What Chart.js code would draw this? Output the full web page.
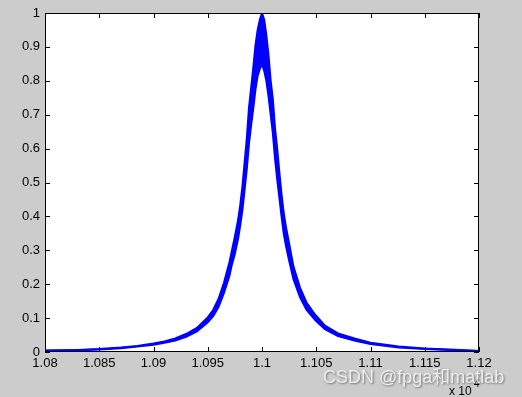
<!DOCTYPE html>
<html>
<head>
<meta charset="utf-8">
<script src="https://cdn.jsdelivr.net/npm/chart.js@4.4.0/dist/chart.umd.min.js"></script>
<style>
  html, body { margin: 0; padding: 0; background: #cccccc; }
  canvas { display: block; }
</style>
</head>
<body>
<canvas id="resonance" width="522" height="397"></canvas>
<script>
// frequency (x 10^4) and the top / bottom edges of the ringing response band
var freq = [
  1.0800, 1.0830, 1.0850, 1.0870, 1.0885, 1.0900, 1.0910, 1.0920, 1.0930, 1.0940,
  1.0950, 1.0955, 1.0960, 1.0965, 1.0970, 1.0972, 1.0975, 1.0978, 1.0980, 1.0982,
  1.0984, 1.0986, 1.0988, 1.0990, 1.0992, 1.0994, 1.0996, 1.0998, 1.1000, 1.1002,
  1.1004, 1.1006, 1.1008, 1.1010, 1.1012, 1.1014, 1.1016, 1.1018, 1.1020, 1.1022,
  1.1025, 1.1029, 1.1035, 1.1041, 1.1049, 1.1058, 1.1070, 1.1086, 1.1100, 1.1126,
  1.1150, 1.1178, 1.1200
];
var upper = [
  0.0043, 0.0060, 0.0085, 0.0130, 0.0180, 0.0250, 0.0310, 0.0400, 0.0530, 0.0710,
  0.1020, 0.1240, 0.1570, 0.2050, 0.2650, 0.2950, 0.3400, 0.3900, 0.4350, 0.4900,
  0.5600, 0.6300, 0.7200, 0.7800, 0.8400, 0.9050, 0.9500, 0.9800, 1.0000, 0.9800,
  0.9350, 0.8750, 0.8000, 0.7450, 0.6600, 0.6000, 0.5300, 0.4650, 0.4100, 0.3700,
  0.3200, 0.2520, 0.1900, 0.1460, 0.1100, 0.0780, 0.0550, 0.0390, 0.0275, 0.0160,
  0.0105, 0.0065, 0.0033
];
var lower = [
  0.0037, 0.0050, 0.0075, 0.0110, 0.0160, 0.0210, 0.0270, 0.0340, 0.0450, 0.0610,
  0.0880, 0.1060, 0.1330, 0.1750, 0.2250, 0.2550, 0.2900, 0.3350, 0.3750, 0.4200,
  0.4800, 0.5400, 0.6150, 0.6700, 0.7200, 0.7750, 0.8150, 0.8350, 0.8500, 0.8300,
  0.8000, 0.7550, 0.7000, 0.6450, 0.5700, 0.5100, 0.4550, 0.4000, 0.3500, 0.3150,
  0.2700, 0.2150, 0.1620, 0.1250, 0.0940, 0.0670, 0.0470, 0.0330, 0.0235, 0.0135,
  0.0090, 0.0055, 0.0028
];

var xTickValues = [1.08, 1.085, 1.09, 1.095, 1.1, 1.105, 1.11, 1.115, 1.12];
var xTickLabels = ["1.08", "1.085", "1.09", "1.095", "1.1", "1.105", "1.11", "1.115", "1.12"];
var yTickValues = [0, 0.1, 0.2, 0.3, 0.4, 0.5, 0.6, 0.7, 0.8, 0.9, 1];
var yTickLabels = ["0", "0.1", "0.2", "0.3", "0.4", "0.5", "0.6", "0.7", "0.8", "0.9", "1"];

var BLUE = "rgb(0,0,255)";
var FONT = "'Liberation Sans', Arial, sans-serif";

// matlab-ish axes: grey figure, white box, ticks pointing inwards
var matlabAxes = {
  id: "matlabAxes",
  beforeDraw: function (chart) {
    var ctx = chart.ctx, a = chart.chartArea;
    ctx.save();
    ctx.fillStyle = "#cccccc";
    ctx.fillRect(0, 0, chart.width, chart.height);
    ctx.fillStyle = "#ffffff";
    ctx.fillRect(a.left, a.top, a.right - a.left, a.bottom - a.top);
    ctx.restore();
  },
  beforeDatasetsDraw: function (chart) {
    var ctx = chart.ctx, a = chart.chartArea;
    var x = chart.scales.x, y = chart.scales.y;
    var len = 5;
    ctx.save();
    ctx.strokeStyle = "#000";
    ctx.lineWidth = 1;
    ctx.beginPath();
    x.ticks.forEach(function (t) {
      var px = Math.round(x.getPixelForValue(t.value)) + 0.5;
      ctx.moveTo(px, a.bottom);
      ctx.lineTo(px, a.bottom - len);
      ctx.moveTo(px, a.top);
      ctx.lineTo(px, a.top + len);
    });
    y.ticks.forEach(function (t) {
      var py = Math.round(y.getPixelForValue(t.value)) + 0.5;
      ctx.moveTo(a.left, py);
      ctx.lineTo(a.left + len, py);
      ctx.moveTo(a.right, py);
      ctx.lineTo(a.right - len, py);
    });
    ctx.stroke();
    ctx.restore();
  },
  afterDatasetsDraw: function (chart) {
    var ctx = chart.ctx, a = chart.chartArea;
    ctx.save();
    ctx.strokeStyle = "#000";
    ctx.lineWidth = 1;
    ctx.strokeRect(a.left + 0.5, a.top + 0.5, a.right - a.left - 1, a.bottom - a.top - 1);
    ctx.restore();
  },
  afterDraw: function (chart) {
    var ctx = chart.ctx;
    ctx.save();
    ctx.fillStyle = "#000";
    ctx.textBaseline = "alphabetic";
    ctx.font = "12px " + FONT;
    ctx.fillText("x 10", 449, 395);
    ctx.font = "10px " + FONT;
    ctx.fillText("4", 474, 387);
    // site watermark
    ctx.font = "18px 'Liberation Sans', Arial, 'Noto Sans CJK SC', sans-serif";
    ctx.shadowColor = "rgba(0,0,0,0.55)";
    ctx.shadowBlur = 2;
    ctx.shadowOffsetX = 1;
    ctx.shadowOffsetY = 1;
    ctx.fillStyle = "rgba(255,255,255,0.8)";
    ctx.fillText("CSDN @fpga和matlab", 323, 383);
    ctx.restore();
  }
};

var ctx = document.getElementById("resonance").getContext("2d");
var chart = new Chart(ctx, {
  type: "line",
  data: {
    datasets: [
      {
        label: "upper",
        data: freq.map(function (f, i) { return { x: f, y: upper[i] }; }),
        borderColor: BLUE,
        borderWidth: 2,
        pointRadius: 0,
        tension: 0,
        fill: false
      },
      {
        label: "lower",
        data: freq.map(function (f, i) { return { x: f, y: lower[i] }; }),
        borderColor: BLUE,
        backgroundColor: BLUE,
        borderWidth: 2,
        pointRadius: 0,
        tension: 0,
        fill: "-1"
      }
    ]
  },
  options: {
    responsive: false,
    animation: false,
    devicePixelRatio: 1,
    layout: { padding: { left: 0, top: 13, right: 43, bottom: 0 } },
    plugins: {
      legend: { display: false },
      tooltip: { enabled: false }
    },
    scales: {
      x: {
        type: "linear",
        min: 1.08,
        max: 1.12,
        afterBuildTicks: function (scale) {
          scale.ticks = xTickValues.map(function (v) { return { value: v }; });
        },
        afterFit: function (scale) { scale.height = 45; },
        grid: { display: false, drawTicks: false },
        border: { display: false },
        ticks: {
          padding: 4,
          maxRotation: 0,
          autoSkip: false,
          color: "#000",
          font: { family: FONT, size: 13 },
          callback: function (v, i) { return xTickLabels[i]; }
        }
      },
      y: {
        min: 0,
        max: 1,
        afterBuildTicks: function (scale) {
          scale.ticks = yTickValues.map(function (v) { return { value: v }; });
        },
        afterFit: function (scale) { scale.width = 45; },
        grid: { display: false, drawTicks: false },
        border: { display: false },
        ticks: {
          padding: 5,
          autoSkip: false,
          color: "#000",
          font: { family: FONT, size: 13 },
          callback: function (v, i) { return yTickLabels[i]; }
        }
      }
    }
  },
  plugins: [matlabAxes]
});
</script>
</body>
</html>
